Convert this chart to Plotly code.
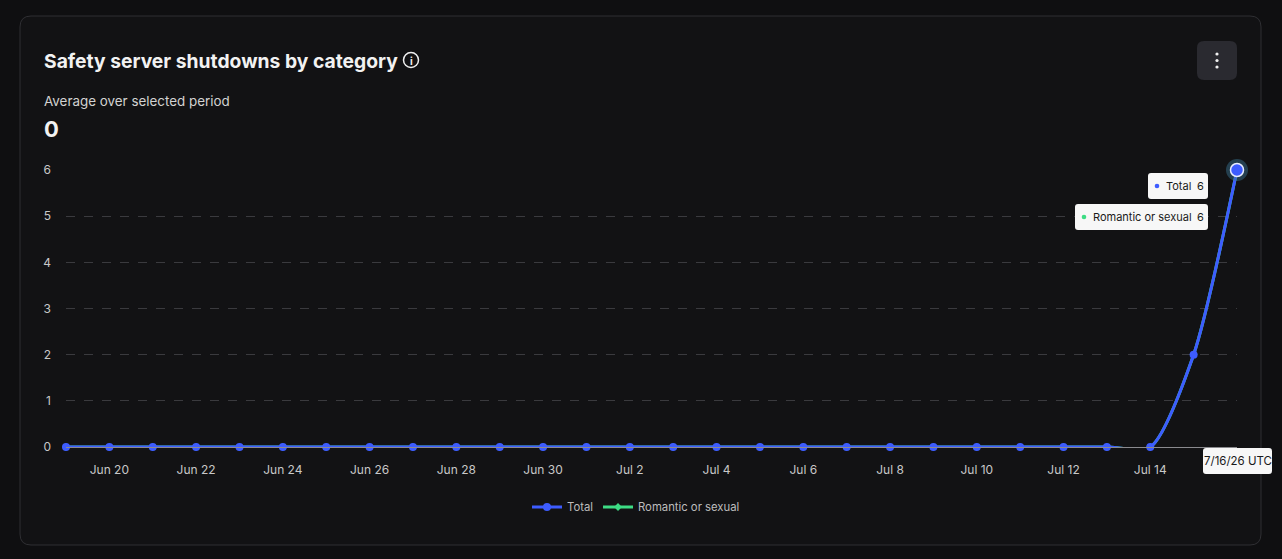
import pandas as pd
import plotly.graph_objects as go

# data
dates = pd.date_range("2026-06-19", "2026-07-16", freq="D")
total = [0] * 26 + [2, 6]
romantic = [0] * 26 + [2, 6]
tick_dates = pd.date_range("2026-06-20", "2026-07-14", freq="2D")
tick_labels = [d.strftime("%b ") + str(d.day) for d in tick_dates]
y_ticks = [0, 1, 2, 3, 4, 5, 6]

OFF = 8  # page body margin
W, H = 1282 - OFF, 559 - OFF
L, R, T, B = 66, 1237, 170, 447  # plot area in window pixels

BG = "#0f0f11"
BLUE = "#3d5cff"
GREEN = "#3ddc84"
FONT = "Inter"


def px(x):
    return (x - L) / (R - L)


def py(y):
    return (B - y) / (B - T)


def rrect(x0, y0, x1, y1, r):
    # rounded rectangle path, pixel coords -> paper coords
    pts = [
        f"M {px(x0 + r)},{py(y0)}",
        f"L {px(x1 - r)},{py(y0)}",
        f"Q {px(x1)},{py(y0)} {px(x1)},{py(y0 + r)}",
        f"L {px(x1)},{py(y1 - r)}",
        f"Q {px(x1)},{py(y1)} {px(x1 - r)},{py(y1)}",
        f"L {px(x0 + r)},{py(y1)}",
        f"Q {px(x0)},{py(y1)} {px(x0)},{py(y1 - r)}",
        f"L {px(x0)},{py(y0 + r)}",
        f"Q {px(x0)},{py(y0)} {px(x0 + r)},{py(y0)}",
        "Z",
    ]
    return " ".join(pts)


def circle(cx, cy, r, **kw):
    return dict(type="circle", xref="paper", yref="paper",
                x0=px(cx - r), x1=px(cx + r), y0=py(cy + r), y1=py(cy - r), **kw)


fig = go.Figure()

fig.add_trace(go.Scatter(
    x=dates, y=romantic, name="Romantic or sexual", mode="lines+markers",
    line=dict(color=GREEN, width=3, shape="spline", smoothing=0.7),
    marker=dict(color=GREEN, size=6, symbol="diamond"), cliponaxis=False,
))
fig.add_trace(go.Scatter(
    x=dates, y=total, name="Total", mode="lines+markers",
    line=dict(color=BLUE, width=3, shape="spline", smoothing=0.7),
    marker=dict(color=BLUE, size=8), cliponaxis=False,
))
# hovered last point
fig.add_trace(go.Scatter(
    x=dates[-1:], y=total[-1:], mode="markers", showlegend=False,
    marker=dict(color="rgba(60,120,150,0.45)", size=22), cliponaxis=False,
))
fig.add_trace(go.Scatter(
    x=dates[-1:], y=total[-1:], mode="markers", showlegend=False,
    marker=dict(color=BLUE, size=13, line=dict(color="#e8ecff", width=1.5)),
    cliponaxis=False,
))

shapes = [
    # card
    dict(type="path", xref="paper", yref="paper", path=rrect(20, 16, 1261, 545, 11),
         fillcolor="#121214", line=dict(color="#2f2f33", width=1), layer="below"),
    # menu button
    dict(type="path", xref="paper", yref="paper", path=rrect(1197, 41, 1237, 80, 7),
         fillcolor="#2a2a30", line=dict(width=0)),
    circle(1217, 54, 1.6, fillcolor="#f0f0f0", line=dict(width=0)),
    circle(1217, 60.5, 1.6, fillcolor="#f0f0f0", line=dict(width=0)),
    circle(1217, 67, 1.6, fillcolor="#f0f0f0", line=dict(width=0)),
    # info icon
    circle(411, 60, 7.5, line=dict(color="#f0f0f0", width=1.5)),
    # tooltips
    dict(type="path", xref="paper", yref="paper", path=rrect(1148, 173, 1208, 199, 3),
         fillcolor="#f7f7f7", line=dict(width=0)),
    dict(type="path", xref="paper", yref="paper", path=rrect(1075, 204, 1208, 230, 3),
         fillcolor="#f7f7f7", line=dict(width=0)),
    dict(type="path", xref="paper", yref="paper", path=rrect(1203, 448, 1272, 474, 3),
         fillcolor="#f7f7f7", line=dict(width=0)),
    circle(1157, 186, 2.3, fillcolor=BLUE, line=dict(width=0)),
    circle(1084, 217, 2.3, fillcolor=GREEN, line=dict(width=0)),
]


def text(x, y, s, size, color, anchor="left", bold=False):
    return dict(xref="paper", yref="paper", x=px(x), y=py(y), text=f"<b>{s}</b>" if bold else s,
                showarrow=False, xanchor=anchor, yanchor="middle",
                font=dict(family=FONT, size=size, color=color))


annotations = [
    text(42, 61, "Safety server shutdowns by category", 19.3, "#f2f2f2", bold=True),
    text(411, 61, "<b>i</b>", 10, "#f0f0f0", anchor="center"),
    text(42, 101, "Average over selected period", 13.4, "#d2d2d2"),
    text(42, 129, "0", 22, "#f2f2f2", bold=True),
    text(1164, 186, "Total", 11, "#1a1a1a"),
    text(1195, 186, str(total[-1]), 11, "#1a1a1a"),
    text(1091, 217, "Romantic or sexual", 11, "#1a1a1a"),
    text(1195, 217, str(romantic[-1]), 11, "#1a1a1a"),
    text(1237.5, 461, dates[-1].strftime("%-m/%-d/%y") + " UTC", 11.5, "#1a1a1a", anchor="center"),
]

fig.update_layout(
    width=W, height=H, autosize=False,
    margin=dict(l=L - OFF, r=W + OFF - R, t=T - OFF, b=H + OFF - B),
    paper_bgcolor=BG, plot_bgcolor="rgba(0,0,0,0)",
    font=dict(family=FONT, size=12, color="#c8c8c8"),
    shapes=shapes, annotations=annotations,
    showlegend=True,
    legend=dict(orientation="h", x=px(636), y=py(507), xanchor="center", yanchor="middle",
                traceorder="reversed", font=dict(size=11.3, color="#bdbdbd"),
                bgcolor="rgba(0,0,0,0)", itemwidth=30),
    hovermode=False,
)
fig.update_xaxes(
    range=[dates[0], dates[-1]], tickvals=tick_dates, ticktext=tick_labels,
    showgrid=False, zeroline=False, showline=True, linecolor="#8a8a8e", linewidth=1,
    ticks="", ticklabelstandoff=12, tickfont=dict(size=12, color="#c8c8c8"),
)
fig.update_yaxes(
    range=[0, 6], tickvals=y_ticks, showgrid=True, gridcolor="#3a3a3e", griddash="dash",
    gridwidth=1, zeroline=False, showline=False, ticks="", ticklabelstandoff=14,
    tickfont=dict(size=12, color="#c8c8c8"),
)

fig.write_html("out.html", post_script=f"document.body.style.background='{BG}';")
